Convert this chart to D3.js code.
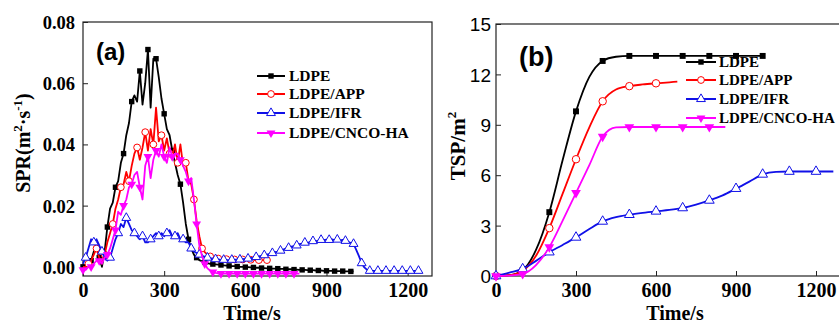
<!DOCTYPE html>
<html><head><meta charset="utf-8">
<script src="https://cdn.jsdelivr.net/npm/d3@7"></script>
<style>body{margin:0;background:#fff}svg{display:block}</style>
</head><body><svg id="c" width="839" height="324"></svg>
<script>
// ---------- DATA ----------
const seriesNames = ["LDPE", "LDPE/APP", "LDPE/IFR", "LDPE/CNCO-HA"];
const seriesColors = ["#000000", "#ff0000", "#1010e8", "#ff00ff"];
const seriesMarkers = ["square", "circle", "triangleUp", "triangleDown"];

// Panel (a): SPR, sampled every 10 s starting at 0 s
const SPR_STEP = 10;
const sprLDPE = [
  0.000,0.000,0.001,0.002,0.005,0.007,0.003,0.000,0.005,0.013,
  0.019,0.021,0.026,0.028,0.034,0.037,0.043,0.047,0.054,0.056,
  0.054,0.064,0.053,0.060,0.071,0.052,0.068,0.068,0.062,0.055,
  0.050,0.045,0.043,0.038,0.034,0.030,0.027,0.021,0.014,0.009,
  0.006,0.004,0.003,0.0022,0.0018,0.0015,0.0012,0.0010,0.0009,0.0008,
  0.0007,0.0006,0.0005,0.0004,0.0003,0.0002,0.0002,0.0001,0.0000,0.0000,
  -0.0001,-0.0001,-0.0002,-0.0002,-0.0003,-0.0003,-0.0004,-0.0004,-0.0005,-0.0005,
  -0.0006,-0.0006,-0.0006,-0.0007,-0.0007,-0.0008,-0.0008,-0.0008,-0.0009,-0.0009,
  -0.0010,-0.0010,-0.0010,-0.0011,-0.0011,-0.0011,-0.0012,-0.0012,-0.0012,-0.0013,
  -0.0013,-0.0013,-0.0013,-0.0014,-0.0014,-0.0014,-0.0014,-0.0015,-0.0015,-0.0015,-0.0015
];
const sprAPP = [
  0.000,0.000,0.001,0.002,0.004,0.006,0.003,0.001,0.004,0.008,
  0.011,0.014,0.019,0.022,0.026,0.027,0.031,0.028,0.033,0.037,
  0.039,0.035,0.039,0.044,0.038,0.045,0.040,0.052,0.041,0.043,
  0.038,0.042,0.037,0.036,0.040,0.034,0.040,0.033,0.034,0.028,
  0.027,0.022,0.015,0.010,0.006,0.0048,0.0040,0.0034,0.0030,0.0028,
  0.0027,0.0026,0.0026,0.0025,0.0025,0.0025,0.0024,0.0024,0.0024,0.0024,
  0.0023,0.0023,0.0023,0.0023,0.0022,0.0022,0.0022,0.0022,0.0022
];
const sprIFR = [
  0.001,0.003,0.006,0.009,0.008,0.009,0.007,0.005,0.003,0.002,
  0.003,0.006,0.009,0.011,0.014,0.013,0.016,0.014,0.012,0.011,
  0.010,0.009,0.010,0.008,0.008,0.009,0.010,0.011,0.010,0.011,
  0.010,0.011,0.012,0.010,0.010,0.011,0.009,0.009,0.008,0.008,
  0.006,0.005,0.0045,0.0040,0.0035,0.0033,0.0030,0.0028,0.0027,0.0025,
  0.0024,0.0023,0.0023,0.0022,0.0022,0.0023,0.0023,0.0024,0.0024,0.0025,
  0.0026,0.0027,0.0028,0.0030,0.0032,0.0034,0.0036,0.0038,0.0040,0.0042,
  0.0045,0.0048,0.0050,0.0053,0.0056,0.0060,0.0062,0.0066,0.0068,0.0070,
  0.0074,0.0076,0.0079,0.0078,0.0082,0.0084,0.0083,0.0086,0.0088,0.0087,
  0.0089,0.0088,0.0090,0.0087,0.0089,0.0086,0.0088,0.0085,0.0082,0.0078,
  0.0075,0.0055,0.0035,0.0012,-0.0002,-0.0010,-0.0013,-0.0013,-0.0013,-0.0013,
  -0.0013,-0.0013,-0.0013,-0.0013,-0.0013,-0.0013,-0.0013,-0.0013,-0.0013,-0.0013,
  -0.0013,-0.0013,-0.0013,-0.0013,-0.0013,-0.0013
];
const sprCNCO = [
  -0.001,-0.001,0.000,0.000,0.001,0.002,0.002,0.001,0.003,0.004,
  0.006,0.009,0.012,0.018,0.017,0.020,0.022,0.026,0.027,0.030,
  0.031,0.026,0.022,0.033,0.036,0.029,0.035,0.038,0.036,0.040,
  0.036,0.034,0.039,0.036,0.037,0.037,0.035,0.033,0.031,0.028,
  0.029,0.022,0.014,0.007,0.0035,0.0010,-0.0005,-0.0012,-0.0017,-0.0020,
  -0.0021,-0.0022,-0.0022,-0.0022,-0.0022,-0.0022,-0.0022,-0.0022,-0.0022,-0.0022,
  -0.0022,-0.0022,-0.0022,-0.0022,-0.0022,-0.0022,-0.0022,-0.0022,-0.0022,-0.0022,
  -0.0022,-0.0022,-0.0022,-0.0022,-0.0022,-0.0022,-0.0022,-0.0022,-0.0022,-0.0022,
  -0.0022
];

// Panel (b): TSP
const tspLDPE_t = [0,50,100,150,200,250,300,350,400,450,500,550,600,650,700,750,800,850,900,950,1000];
const tspLDPE_v = [0,0.05,0.35,1.55,3.8,6.9,9.8,11.85,12.8,13.05,13.1,13.1,13.1,13.1,13.1,13.1,13.1,13.1,13.1,13.1,13.1];
const tspAPP_t = [0,50,100,150,200,250,300,350,400,450,500,550,600,650,680];
const tspAPP_v = [0,0.05,0.3,1.2,2.85,4.9,6.95,8.85,10.4,11.1,11.3,11.4,11.47,11.53,11.57];
const tspIFR_t = [0,50,100,150,200,250,300,350,400,450,500,550,600,650,700,750,800,850,900,950,1000,1050,1100,1150,1200,1265];
const tspIFR_v = [0,0.2,0.42,0.9,1.42,1.85,2.3,2.8,3.25,3.5,3.65,3.76,3.85,3.93,4.05,4.25,4.5,4.8,5.2,5.62,6.05,6.2,6.22,6.22,6.22,6.22];
const tspCNCO_t = [0,50,100,150,200,250,300,350,400,450,500,550,600,650,700,750,800,860];
const tspCNCO_v = [0,0.02,0.12,0.65,1.72,3.3,4.95,6.6,8.3,8.85,8.87,8.87,8.87,8.87,8.87,8.87,8.87,8.87];

const xTicks = [0,300,600,900,1200];
const xMinor = [150,450,750,1050];
const sprTicks = [0,0.02,0.04,0.06,0.08];
const sprMinor = [0.01,0.03,0.05,0.07];
const tspTicks = [0,3,6,9,12,15];
const tspMinor = [1.5,4.5,7.5,10.5,13.5];

// ---------- DRAW ----------
const svg = d3.select("#c");
const SERIF = "'Liberation Serif','Times New Roman',serif";
const SANS = "'Liberation Sans',Arial,sans-serif";

const xa = d3.scaleLinear([0,1290],[83,432]);
const ya = d3.scaleLinear([-0.003,0.08],[276,22]);
const xb = d3.scaleLinear([0,1290],[496,840]);
const yb = d3.scaleLinear([0,15],[276,24]);

function marker(g, type, x, y, color, s) {
  s = s || 1;
  if (type === "square") {
    g.append("rect").attr("x", x-2.7*s).attr("y", y-2.7*s).attr("width", 5.4*s).attr("height", 5.4*s).attr("fill", color);
  } else if (type === "circle") {
    g.append("circle").attr("cx", x).attr("cy", y).attr("r", 3.4*s).attr("fill", "#fff").attr("stroke", color).attr("stroke-width", 1);
  } else if (type === "triangleUp") {
    g.append("path").attr("d", d3.symbol(d3.symbolTriangle, 34*s*s)()).attr("transform", `translate(${x},${y})`)
      .attr("fill", "#fff").attr("stroke", color).attr("stroke-width", 1);
  } else {
    g.append("path").attr("d", d3.symbol(d3.symbolTriangle, 34*s*s)()).attr("transform", `translate(${x},${y}) rotate(180)`)
      .attr("fill", color);
  }
}

function drawAxes(xs, ys, yT, yMinor, yFmt, yFont, yFontSize, yWeight, yPad) {
  const x0 = xs.range()[0], x1 = xs.range()[1], y0 = ys.range()[0], y1 = ys.range()[1];
  const gx = svg.append("g").attr("transform", `translate(0,${y0})`);
  gx.call(d3.axisBottom(xs).tickValues(xMinor).tickSize(-3).tickFormat(""));
  gx.call(d3.axisBottom(xs).tickValues(xTicks).tickSize(-5).tickFormat(d3.format("d")));
  gx.select(".domain").remove();
  gx.selectAll("line").attr("stroke", "#222");
  gx.selectAll("text").attr("y", 21).attr("dy", 0).attr("font-family", SERIF).attr("font-weight", "bold")
    .attr("font-size", 20).attr("fill", "#000");
  const gy = svg.append("g").attr("transform", `translate(${x0},0)`);
  gy.call(d3.axisLeft(ys).tickValues(yMinor).tickSize(-3).tickFormat(""));
  gy.call(d3.axisLeft(ys).tickValues(yT).tickSize(-5).tickFormat(yFmt));
  gy.select(".domain").remove();
  gy.selectAll("line").attr("stroke", "#222");
  gy.selectAll("text").attr("x", -yPad).attr("dy", "0.35em").attr("font-family", yFont).attr("font-weight", yWeight)
    .attr("font-size", yFontSize).attr("fill", "#000");
  svg.append("rect").attr("x", x0).attr("y", y1).attr("width", x1-x0).attr("height", y0-y1)
    .attr("fill", "none").attr("stroke", "#222").attr("stroke-width", 1.2);
}

function drawLine(xs, ys, ts, vs, color, type, every, curve, ms) {
  const pts = ts.map((t,i)=>[t, vs[i]]);
  const line = d3.line().x(d=>xs(d[0])).y(d=>ys(d[1])).curve(curve);
  const g = svg.append("g");
  g.append("path").attr("d", line(pts)).attr("fill", "none").attr("stroke", color).attr("stroke-width", 1.8).attr("stroke-linejoin", "round");
  pts.forEach((p,i)=>{ if (every(p,i)) marker(g, type, xs(p[0]), ys(p[1]), color, ms); });
}

// ---- Panel (a)
drawAxes(xa, ya, sprTicks, sprMinor, d3.format(".2f"), SERIF, 18.5, "bold", 8);
const sprSets = [sprLDPE, sprAPP, sprIFR, sprCNCO];
const sprOffsets = [0, 1, 2, 0];
sprSets.forEach((vals, k) => {
  const ts = vals.map((v,i)=>i*SPR_STEP);
  drawLine(xa, ya, ts, vals, seriesColors[k], seriesMarkers[k], (p,i)=> (i+sprOffsets[k])%3===0, d3.curveLinear, 1);
});

// ---- Panel (b)
drawAxes(xb, yb, tspTicks, tspMinor, d3.format("d"), SANS, 19, "normal", 5);
const tspSets = [[tspLDPE_t,tspLDPE_v],[tspAPP_t,tspAPP_v],[tspIFR_t,tspIFR_v],[tspCNCO_t,tspCNCO_v]];
tspSets.forEach((s,k)=>{
  drawLine(xb, yb, s[0], s[1], seriesColors[k], seriesMarkers[k], (p)=> p[0]%100===0, d3.curveMonotoneX, 1.1);
});

// ---- Legends
function legend(x0, x1, tx, rows, fs) {
  seriesNames.forEach((name,k)=>{
    const y = rows[k];
    const g = svg.append("g");
    g.append("line").attr("x1", x0).attr("x2", x1).attr("y1", y).attr("y2", y).attr("stroke", seriesColors[k]).attr("stroke-width", 2);
    marker(g, seriesMarkers[k], (x0+x1)/2, y, seriesColors[k], 1);
    svg.append("text").attr("x", tx).attr("y", y).attr("dy", "0.35em").attr("font-family", SERIF).attr("font-weight", "bold")
      .attr("font-size", fs).attr("fill", "#000").text(name);
  });
}
legend(257, 285, 289, [76, 94, 113, 133], 15.5);
legend(686, 716, 719, [62, 80, 99, 118], 15);

// ---- Panel letters
svg.append("text").attr("x", 96).attr("y", 60).attr("font-family", SANS).attr("font-weight", "bold").attr("font-size", 24).text("(a)");
svg.append("text").attr("x", 519).attr("y", 66).attr("font-family", SANS).attr("font-weight", "bold").attr("font-size", 27).text("(b)");

// ---- Axis titles
function xTitle(cx) {
  svg.append("text").attr("x", cx).attr("y", 320).attr("text-anchor", "middle").attr("font-family", SERIF)
    .attr("font-weight", "bold").attr("font-size", 20).text("Time/s");
}
xTitle(252); xTitle(675);

const spr = svg.append("text").attr("transform", "translate(30,143) rotate(-90)").attr("text-anchor", "middle")
  .attr("font-family", SERIF).attr("font-weight", "bold").attr("font-size", 20);
spr.append("tspan").text("SPR(m");
spr.append("tspan").attr("dy", -8).attr("font-size", 13).text("2");
spr.append("tspan").attr("dy", 8).text("·s");
spr.append("tspan").attr("dy", -8).attr("font-size", 13).text("-1");
spr.append("tspan").attr("dy", 8).text(")");

const tsp = svg.append("text").attr("transform", "translate(465,146) rotate(-90)").attr("text-anchor", "middle")
  .attr("font-family", SERIF).attr("font-weight", "bold").attr("font-size", 21);
tsp.append("tspan").text("TSP/m");
tsp.append("tspan").attr("dy", -9).attr("font-size", 13).text("2");
</script></body></html>
